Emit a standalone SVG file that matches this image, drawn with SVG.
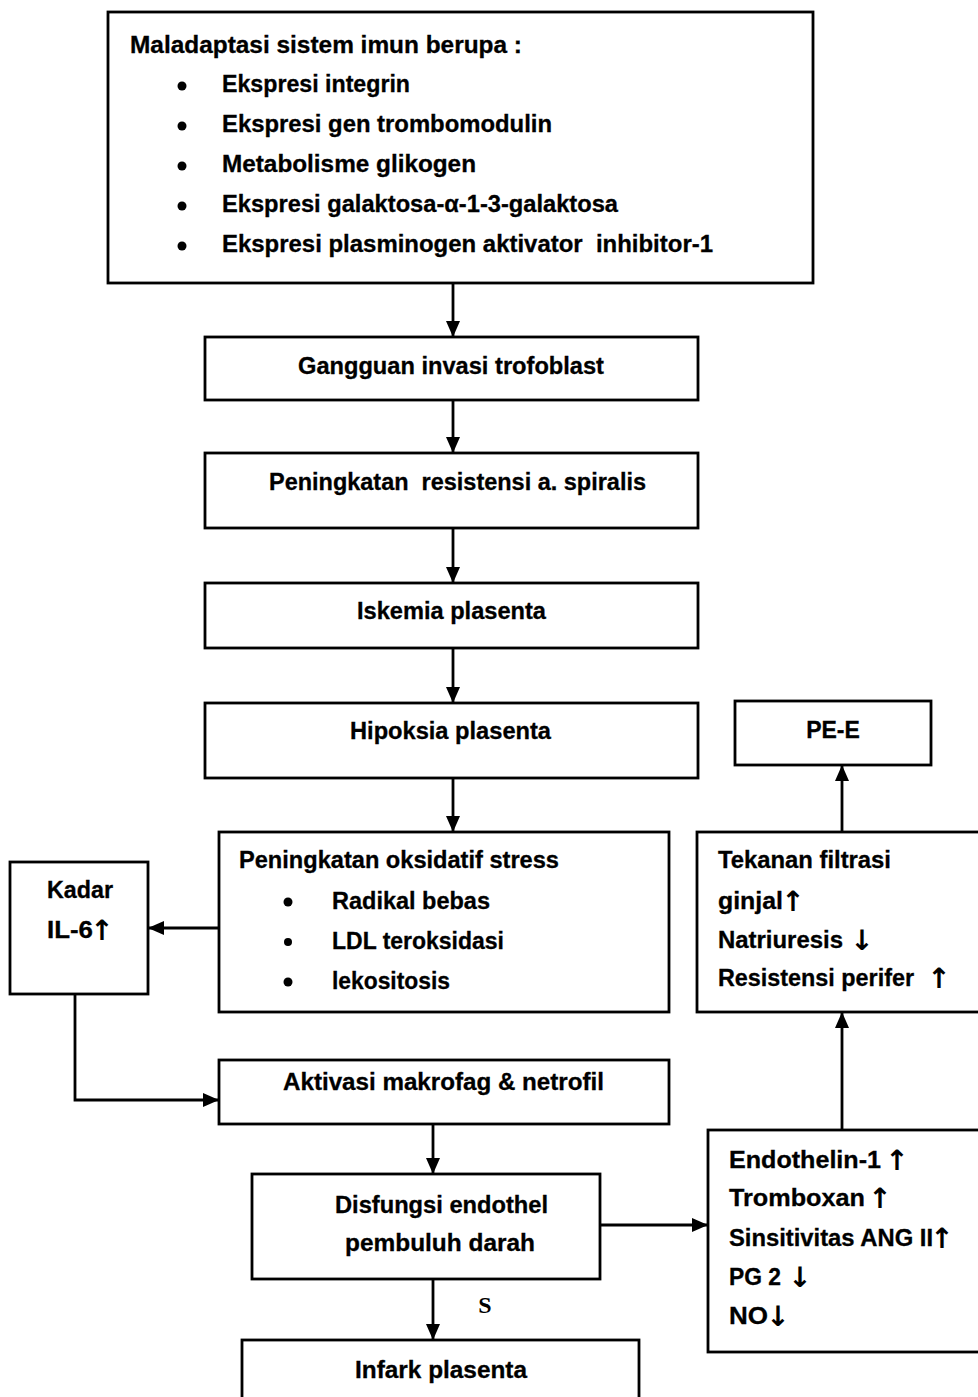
<svg xmlns="http://www.w3.org/2000/svg" width="978" height="1397" viewBox="0 0 978 1397">
<defs>
<marker id="ah" markerWidth="16" markerHeight="14" refX="16" refY="7" orient="auto" markerUnits="userSpaceOnUse">
<path d="M0,0 L16,7 L0,14 z" fill="#000"/>
</marker>
<style>
.box{fill:#fff;stroke:#000;stroke-width:2.8}
.t{font-family:"Liberation Sans",Arial,sans-serif;font-weight:bold;font-size:23px;fill:#000;stroke:#000;stroke-width:0.3}
.a{font-family:"DejaVu Sans",sans-serif;font-weight:bold;font-size:28px;fill:#000;text-anchor:middle}
.c{text-anchor:middle}
.con{fill:none;stroke:#000;stroke-width:2.8;marker-end:url(#ah)}
</style>
</defs>
<rect width="978" height="1397" fill="#fff"/>

<g id="connectors">
<line class="con" x1="453" y1="283" x2="453" y2="337"/>
<line class="con" x1="453" y1="400" x2="453" y2="453"/>
<line class="con" x1="453" y1="528" x2="453" y2="583"/>
<line class="con" x1="453" y1="648" x2="453" y2="703"/>
<line class="con" x1="453" y1="778" x2="453" y2="832"/>
<line class="con" x1="219" y1="928" x2="148" y2="928"/>
<polyline class="con" points="75,994 75,1100 219,1100"/>
<line class="con" x1="433" y1="1124" x2="433" y2="1174"/>
<line class="con" x1="433" y1="1279" x2="433" y2="1340"/>
<line class="con" x1="600" y1="1225" x2="708" y2="1225"/>
<line class="con" x1="842" y1="1130" x2="842" y2="1012"/>
<line class="con" x1="842" y1="832" x2="842" y2="765"/>
<text x="485" y="1313" font-family="'Liberation Serif',serif" font-weight="bold" font-size="24" text-anchor="middle">S</text>
</g>

<g id="n-maladaptasi">
<rect class="box" x="108" y="12" width="705" height="271"/>
<text class="t" x="130" y="53" textLength="392" lengthAdjust="spacingAndGlyphs">Maladaptasi sistem imun berupa :</text>
<circle cx="182" cy="86" r="4.5"/>
<circle cx="182" cy="126" r="4.5"/>
<circle cx="182" cy="166" r="4.5"/>
<circle cx="182" cy="206" r="4.5"/>
<circle cx="182" cy="246" r="4.5"/>
<text class="t" x="222" y="92" textLength="188" lengthAdjust="spacingAndGlyphs">Ekspresi integrin</text>
<text class="t" x="222" y="132" textLength="330" lengthAdjust="spacingAndGlyphs">Ekspresi gen trombomodulin</text>
<text class="t" x="222" y="172" textLength="254" lengthAdjust="spacingAndGlyphs">Metabolisme glikogen</text>
<text class="t" x="222" y="212" textLength="396" lengthAdjust="spacingAndGlyphs">Ekspresi galaktosa-α-1-3-galaktosa</text>
<text class="t" x="222" y="252" textLength="491" lengthAdjust="spacingAndGlyphs" xml:space="preserve">Ekspresi plasminogen aktivator  inhibitor-1</text>
</g>

<g id="n-gangguan">
<rect class="box" x="205" y="337" width="493" height="63"/>
<text class="t" x="298" y="374" textLength="306" lengthAdjust="spacingAndGlyphs">Gangguan invasi trofoblast</text>
</g>

<g id="n-resistensi">
<rect class="box" x="205" y="453" width="493" height="75"/>
<text class="t" x="269" y="490" textLength="377" lengthAdjust="spacingAndGlyphs" xml:space="preserve">Peningkatan  resistensi a. spiralis</text>
</g>

<g id="n-iskemia">
<rect class="box" x="205" y="583" width="493" height="65"/>
<text class="t" x="357" y="619" textLength="189" lengthAdjust="spacingAndGlyphs">Iskemia plasenta</text>
</g>

<g id="n-hipoksia">
<rect class="box" x="205" y="703" width="493" height="75"/>
<text class="t" x="350" y="739" textLength="201" lengthAdjust="spacingAndGlyphs">Hipoksia plasenta</text>
</g>

<g id="n-oksidatif">
<rect class="box" x="219" y="832" width="450" height="180"/>
<text class="t" x="239" y="868" textLength="320" lengthAdjust="spacingAndGlyphs">Peningkatan oksidatif stress</text>
<circle cx="288" cy="902" r="4.5"/>
<circle cx="288" cy="942" r="4"/>
<circle cx="288" cy="982" r="4.5"/>
<text class="t" x="332" y="909" textLength="158" lengthAdjust="spacingAndGlyphs">Radikal bebas</text>
<text class="t" x="332" y="949" textLength="172" lengthAdjust="spacingAndGlyphs">LDL teroksidasi</text>
<text class="t" x="332" y="989" textLength="118" lengthAdjust="spacingAndGlyphs">lekositosis</text>
</g>

<g id="n-kadar">
<rect class="box" x="10" y="862" width="138" height="132"/>
<text class="t" x="47" y="898" textLength="66" lengthAdjust="spacingAndGlyphs">Kadar</text>
<text class="t" x="47" y="938" textLength="46" lengthAdjust="spacingAndGlyphs">IL-6</text>
<text class="a" x="102" y="940">↑</text>
</g>

<g id="n-aktivasi">
<rect class="box" x="219" y="1060" width="450" height="64"/>
<text class="t" x="283" y="1090" textLength="321" lengthAdjust="spacingAndGlyphs">Aktivasi makrofag &amp; netrofil</text>
</g>

<g id="n-disfungsi">
<rect class="box" x="252" y="1174" width="348" height="105"/>
<text class="t" x="335" y="1213" textLength="213" lengthAdjust="spacingAndGlyphs">Disfungsi endothel</text>
<text class="t" x="345" y="1251" textLength="190" lengthAdjust="spacingAndGlyphs">pembuluh darah</text>
</g>

<g id="n-infark">
<rect class="box" x="242" y="1340" width="397" height="70"/>
<text class="t" x="355" y="1378" textLength="172" lengthAdjust="spacingAndGlyphs">Infark plasenta</text>
</g>

<g id="n-endothelin">
<rect class="box" x="708" y="1130" width="280" height="222"/>
<text class="t" x="729" y="1168" textLength="152" lengthAdjust="spacingAndGlyphs">Endothelin-1</text>
<text class="a" x="897" y="1170">↑</text>
<text class="t" x="729" y="1206" textLength="136" lengthAdjust="spacingAndGlyphs">Tromboxan</text>
<text class="a" x="880" y="1208">↑</text>
<text class="t" x="729" y="1246" textLength="204" lengthAdjust="spacingAndGlyphs">Sinsitivitas ANG II</text>
<text class="a" x="942" y="1248">↑</text>
<text class="t" x="729" y="1285" textLength="52" lengthAdjust="spacingAndGlyphs">PG 2</text>
<text class="a" x="800" y="1287">↓</text>
<text class="t" x="729" y="1324" textLength="39" lengthAdjust="spacingAndGlyphs">NO</text>
<text class="a" x="778" y="1326">↓</text>
</g>

<g id="n-tekanan">
<rect class="box" x="697" y="832" width="291" height="180"/>
<text class="t" x="718" y="868" textLength="173" lengthAdjust="spacingAndGlyphs">Tekanan filtrasi</text>
<text class="t" x="718" y="909" textLength="65" lengthAdjust="spacingAndGlyphs">ginjal</text>
<text class="a" x="793" y="911">↑</text>
<text class="t" x="718" y="948" textLength="125" lengthAdjust="spacingAndGlyphs">Natriuresis</text>
<text class="a" x="862" y="950">↓</text>
<text class="t" x="718" y="986" textLength="196" lengthAdjust="spacingAndGlyphs">Resistensi perifer</text>
<text class="a" x="939" y="988">↑</text>
</g>

<g id="n-pee">
<rect class="box" x="735" y="701" width="196" height="64"/>
<text class="t c" x="833" y="738">PE-E</text>
</g>
</svg>
